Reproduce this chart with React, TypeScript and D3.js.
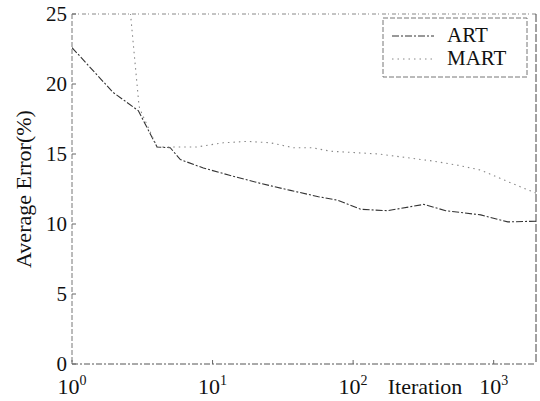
import React, { useEffect, useRef } from 'react';
import * as d3 from 'd3';

// ART curve (lower one)
const artIter = [1, 1.96, 2.96, 4.03, 5.0, 5.9, 8.6, 13, 21.9, 35.8, 56.7, 77.4, 113, 176, 318, 456, 809, 1260, 2000];
const artErr = [22.6, 19.4, 18.1, 15.5, 15.45, 14.6, 14.0, 13.5, 12.9, 12.4, 11.95, 11.7, 11.05, 10.95, 11.4, 10.95, 10.65, 10.15, 10.2];

// MART curve (upper one)
const martIter = [2.5, 3.0, 3.14, 4.03, 5.0, 7.7, 11.9, 17.6, 25.8, 37.6, 51, 69, 152, 368, 555, 809, 1280, 2000];
const martErr = [27, 18.4, 17.9, 15.5, 15.5, 15.5, 15.8, 15.9, 15.8, 15.45, 15.45, 15.2, 15.0, 14.5, 14.2, 13.85, 13.0, 12.2];

const yTicks = [0, 5, 10, 15, 20, 25];
const xTicks = [1, 10, 100, 1000];
const xTickExp = ['0', '1', '2', '3'];
const seriesNames = ['ART', 'MART'];

const font = '"Liberation Serif", "Times New Roman", serif';

function App() {
    const ref = useRef(null);

    useEffect(() => {
        if (!ref.current) return;
        const root = d3.select(ref.current);
        root.selectAll('*').remove();

        const W = 540, H = 401;
        const left = 72, right = 536, top = 14, bottom = 364;

        const svg = root.append('svg')
            .attr('width', W)
            .attr('height', H)
            .style('position', 'absolute')
            .style('left', '0px')
            .style('top', '0px')
            .style('background', '#fff');

        const x = d3.scaleLog().domain([1, 2000]).range([left, right]);
        const y = d3.scaleLinear().domain([0, 25]).range([bottom, top]);

        svg.append('defs').append('clipPath').attr('id', 'plot')
            .append('rect')
            .attr('x', left).attr('y', top)
            .attr('width', right - left).attr('height', bottom - top);

        // frame, looks scanned so dashed greys
        const frame = svg.append('g').attr('fill', 'none');
        frame.append('line').attr('x1', left).attr('x2', left).attr('y1', top).attr('y2', bottom)
            .attr('stroke', '#777').attr('stroke-dasharray', '5 2');
        frame.append('line').attr('x1', left).attr('x2', right).attr('y1', bottom).attr('y2', bottom)
            .attr('stroke', '#555').attr('stroke-dasharray', '6 2 2 2');
        frame.append('line').attr('x1', left).attr('x2', right).attr('y1', top).attr('y2', top)
            .attr('stroke', '#888').attr('stroke-dasharray', '4 2 1 3');
        frame.append('line').attr('x1', right).attr('x2', right).attr('y1', top).attr('y2', bottom)
            .attr('stroke', '#444').attr('stroke-dasharray', '8 2');

        // y ticks + labels
        yTicks.forEach(t => {
            svg.append('line')
                .attr('x1', left).attr('x2', left + 4)
                .attr('y1', y(t)).attr('y2', y(t))
                .attr('stroke', '#666');
            svg.append('text')
                .attr('x', left - 5).attr('y', y(t))
                .attr('dy', '0.35em')
                .attr('text-anchor', 'end')
                .style('font-family', font).style('font-size', '21px')
                .attr('fill', '#111')
                .text(t);
        });

        // x ticks + labels with superscripts
        xTicks.forEach((t, i) => {
            svg.append('line')
                .attr('x1', x(t)).attr('x2', x(t))
                .attr('y1', bottom).attr('y2', bottom - 4)
                .attr('stroke', '#666');
            const txt = svg.append('text')
                .attr('x', x(t)).attr('y', 394)
                .attr('text-anchor', 'middle')
                .style('font-family', font).style('font-size', '22px')
                .attr('fill', '#111');
            txt.append('tspan').text('10');
            txt.append('tspan').attr('dy', -9).style('font-size', '14px').text(xTickExp[i]);
        });

        svg.append('text')
            .attr('x', 425).attr('y', 394)
            .attr('text-anchor', 'middle')
            .style('font-family', font).style('font-size', '22px')
            .attr('fill', '#111')
            .text('Iteration');

        svg.append('text')
            .attr('transform', `translate(31,${(top + bottom) / 2}) rotate(-90)`)
            .attr('text-anchor', 'middle')
            .style('font-family', font).style('font-size', '22px')
            .attr('fill', '#111')
            .text('Average Error(%)');

        // curves
        const line = d3.line<[number, number]>()
            .x(d => x(d[0]))
            .y(d => y(d[1]));

        const g = svg.append('g').attr('clip-path', 'url(#plot)');
        g.append('path')
            .datum(artIter.map((v, i) => [v, artErr[i]] as [number, number]))
            .attr('d', line)
            .attr('fill', 'none')
            .attr('stroke', '#333')
            .attr('stroke-width', 1.1)
            .attr('stroke-dasharray', '7 2 2 2');
        g.append('path')
            .datum(martIter.map((v, i) => [v, martErr[i]] as [number, number]))
            .attr('d', line)
            .attr('fill', 'none')
            .attr('stroke', '#888')
            .attr('stroke-width', 1.1)
            .attr('stroke-dasharray', '1.5 4');

        // legend
        const lg = svg.append('g');
        lg.append('rect')
            .attr('x', 383).attr('y', 18)
            .attr('width', 144).attr('height', 59)
            .attr('fill', '#fff')
            .attr('stroke', '#777')
            .attr('stroke-dasharray', '5 2');
        const styles = [
            { stroke: '#333', dash: '7 2 2 2' },
            { stroke: '#888', dash: '1.5 4' }
        ];
        seriesNames.forEach((name, i) => {
            const cy = 36 + i * 23;
            lg.append('line')
                .attr('x1', 392).attr('x2', 434)
                .attr('y1', cy).attr('y2', cy)
                .attr('stroke', styles[i].stroke)
                .attr('stroke-dasharray', styles[i].dash);
            lg.append('text')
                .attr('x', 447).attr('y', cy + 6)
                .style('font-family', font).style('font-size', '21px')
                .attr('fill', '#111')
                .text(name);
        });
    }, []);

    return <div ref={ref} />;
}

export default App;
